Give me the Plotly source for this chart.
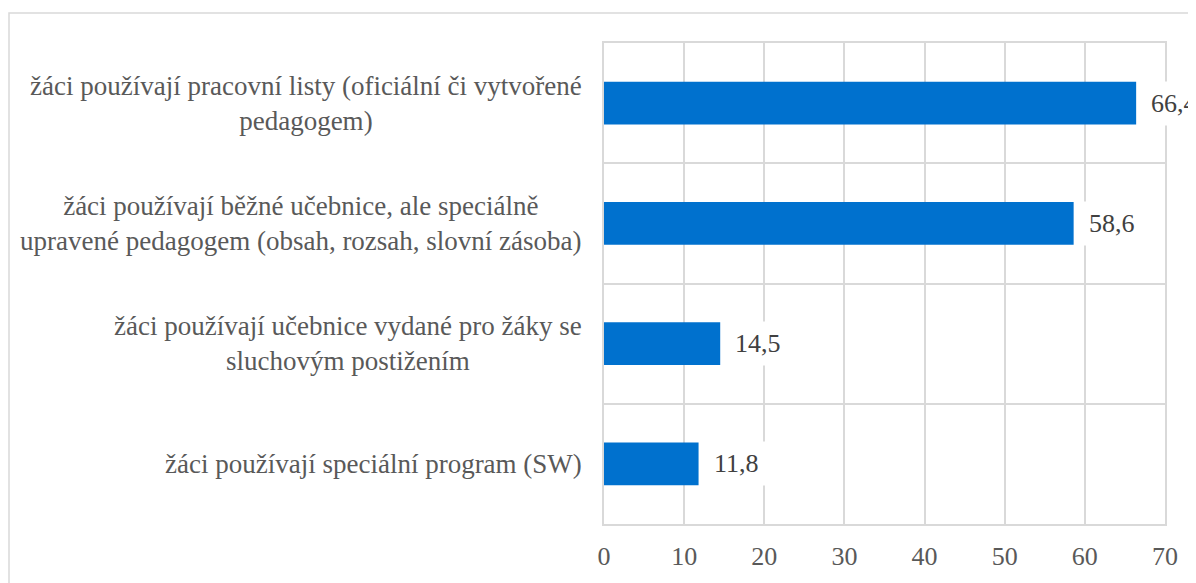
import plotly.graph_objects as go

categories = [
    "žáci používají pracovní listy (oficiální či vytvořené<br>pedagogem)",
    "žáci používají běžné učebnice, ale speciálně<br>upravené pedagogem (obsah, rozsah, slovní zásoba)",
    "žáci používají učebnice vydané pro žáky se<br>sluchovým postižením",
    "žáci používají speciální program (SW)",
]
values = [66.4, 58.6, 14.5, 11.8]
value_labels = ["66,4", "58,6", "14,5", "11,8"]
x_ticks = [0, 10, 20, 30, 40, 50, 60, 70]

FONT = "Liberation Serif"
TEXT_COLOR = "#595959"
GRID = "#D9D9D9"
BAR = "#0071CE"

# page body has an 8px default margin
W, H = 1188, 575
L, T = 596, 35
pw, ph = 561, 483
R, B = W - L - pw, H - T - ph

fig = go.Figure()
fig.add_trace(go.Bar(
    x=values, y=categories, orientation="h",
    marker=dict(color=BAR, line=dict(width=0)),
    hoverinfo="skip",
))

annotations = []
for c, v, t in zip(categories, values, value_labels):
    annotations.append(dict(
        x=v, y=c, xref="x", yref="y", text=t, showarrow=False,
        xanchor="left", yanchor="middle", xshift=7,
        bgcolor="white", borderpad=7, borderwidth=1, bordercolor="rgba(0,0,0,0)",
        font=dict(family=FONT, size=26, color="#404040"),
    ))
    annotations.append(dict(
        x=0, y=c, xref="paper", yref="y", text=c, showarrow=False,
        xanchor="right", yanchor="middle", xshift=-20, align="center",
        font=dict(family=FONT, size=27, color=TEXT_COLOR),
    ))

# outer chart-area border (cropped at right/bottom)
shapes = [dict(
    type="rect", xref="paper", yref="paper", layer="below",
    x0=(1 - L) / pw, x1=1.3, y0=-0.5, y1=1 + (T - 5) / ph,
    line=dict(color=GRID, width=1.5), fillcolor="rgba(0,0,0,0)",
)]

fig.update_layout(
    width=W, height=H,
    margin=dict(l=L, r=R, t=T, b=B, pad=0),
    paper_bgcolor="white", plot_bgcolor="white",
    bargap=0.645,
    showlegend=False,
    annotations=annotations,
    shapes=shapes,
    font=dict(family=FONT, size=26, color=TEXT_COLOR),
    xaxis=dict(
        range=[0, 70], tickvals=x_ticks, ticktext=[str(v) for v in x_ticks],
        showgrid=True, gridcolor=GRID, gridwidth=1.5,
        showline=True, linecolor=GRID, linewidth=1.5, mirror=True,
        zeroline=False, ticks="", ticklabelstandoff=8,
        tickfont=dict(family=FONT, size=26, color=TEXT_COLOR),
        fixedrange=True,
    ),
    yaxis=dict(
        type="category", categoryorder="array", categoryarray=categories,
        autorange="reversed", tickson="boundaries",
        showgrid=True, gridcolor=GRID, gridwidth=1.5,
        showline=True, linecolor=GRID, linewidth=1.5, mirror=True,
        showticklabels=False, ticks="", zeroline=False,
        fixedrange=True,
    ),
)

fig.write_html("out.html", config={"displayModeBar": False})
